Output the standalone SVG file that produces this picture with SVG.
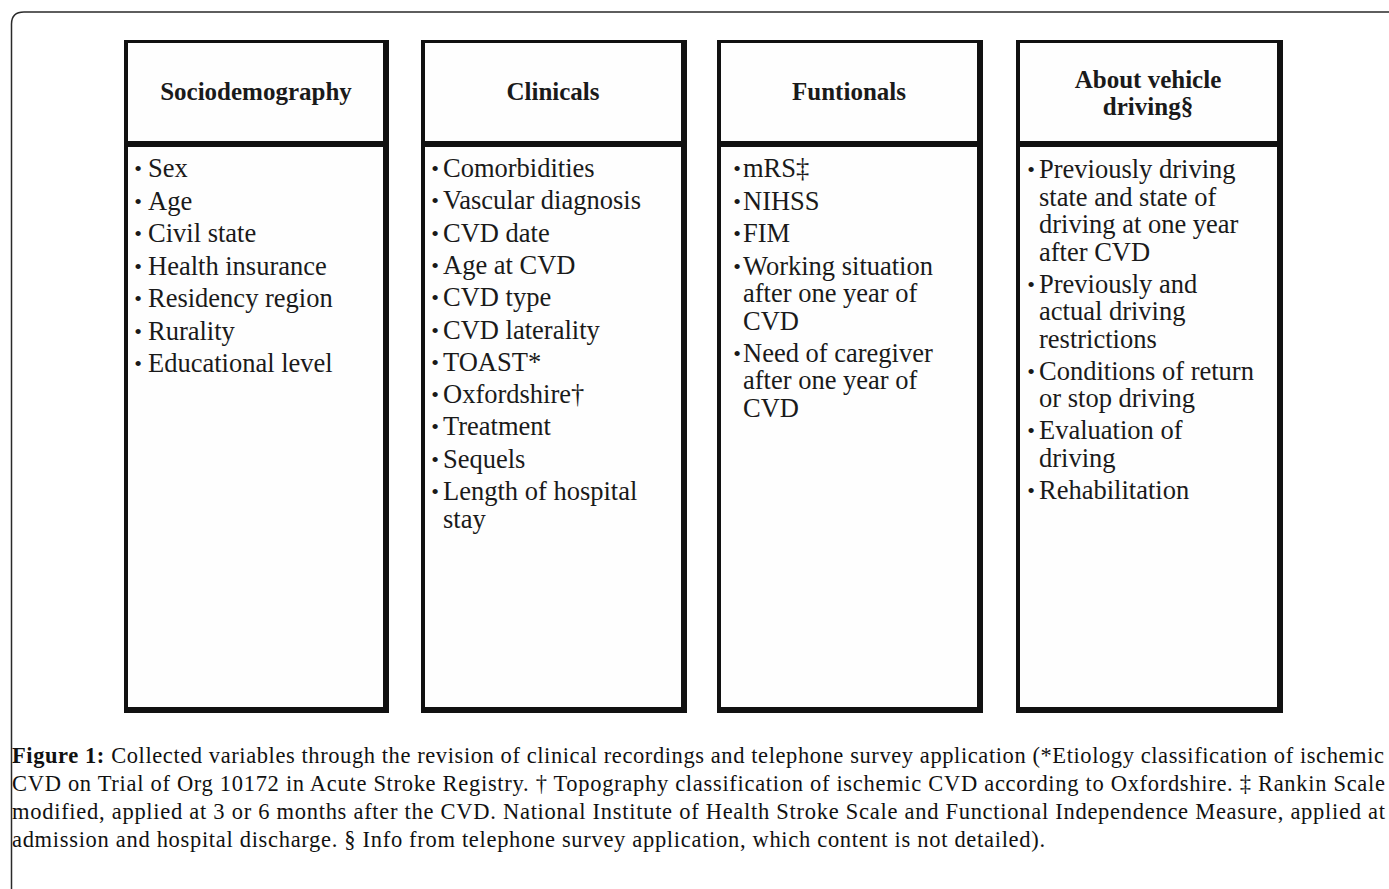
<svg xmlns="http://www.w3.org/2000/svg" width="1389" height="889" viewBox="0 0 1389 889">
<style>
.frame{fill:none;stroke:#2a2a2a;stroke-width:1.5}
.bd{fill:#111}
.in{fill:#fefefe}
.h{font-family:"Liberation Serif",serif;font-weight:bold;font-size:25px;fill:#1a1a1a;text-anchor:middle}
.t{font-family:"Liberation Serif",serif;font-size:26.5px;fill:#1a1a1a}
.b{font-family:"Liberation Serif",serif;font-size:22px;fill:#1a1a1a;text-anchor:middle}
.cap{font-family:"Liberation Serif",serif;font-size:22.5px;fill:#111}
</style>
<rect width="1389" height="889" fill="#fff"/>
<path class="frame" d="M11.5 889 V24 Q11.5 12 24 12 H1389"/>
<g id="sociodemography">
<rect class="bd" x="124" y="40" width="265" height="106"/>
<rect class="in" x="128" y="43" width="255" height="98"/>
<rect class="bd" x="124" y="141" width="265" height="572"/>
<rect class="in" x="128" y="147" width="255" height="560"/>
<text class="h" x="256" y="100">Sociodemography</text>
<g class="b"><text x="138" y="176">•</text><text x="138" y="208.5">•</text><text x="138" y="241">•</text><text x="138" y="273.5">•</text><text x="138" y="306">•</text><text x="138" y="338.5">•</text><text x="138" y="371">•</text></g>
<text class="t" x="148" y="177">Sex</text>
<text class="t" x="148" y="209.5">Age</text>
<text class="t" x="148" y="242">Civil state</text>
<text class="t" x="148" y="274.5">Health insurance</text>
<text class="t" x="148" y="307">Residency region</text>
<text class="t" x="148" y="339.5">Rurality</text>
<text class="t" x="148" y="372">Educational level</text>
</g>
<g id="clinicals">
<rect class="bd" x="421" y="40" width="266" height="106"/>
<rect class="in" x="425" y="43" width="256" height="98"/>
<rect class="bd" x="421" y="141" width="266" height="572"/>
<rect class="in" x="425" y="147" width="256" height="560"/>
<text class="h" x="553" y="100">Clinicals</text>
<g class="b"><text x="435" y="176">•</text><text x="435" y="208.3">•</text><text x="435" y="240.6">•</text><text x="435" y="272.9">•</text><text x="435" y="305.2">•</text><text x="435" y="337.5">•</text><text x="435" y="369.8">•</text><text x="435" y="402.1">•</text><text x="435" y="434.4">•</text><text x="435" y="466.7">•</text><text x="435" y="499">•</text></g>
<text class="t" x="443" y="177">Comorbidities</text>
<text class="t" x="443" y="209.3">Vascular diagnosis</text>
<text class="t" x="443" y="241.6">CVD date</text>
<text class="t" x="443" y="273.9">Age at CVD</text>
<text class="t" x="443" y="306.2">CVD type</text>
<text class="t" x="443" y="338.5">CVD laterality</text>
<text class="t" x="443" y="370.8">TOAST*</text>
<text class="t" x="443" y="403.1">Oxfordshire†</text>
<text class="t" x="443" y="435.4">Treatment</text>
<text class="t" x="443" y="467.7">Sequels</text>
<text class="t" x="443" y="500">Length of hospital</text>
<text class="t" x="443" y="527.5">stay</text>
</g>
<g id="funtionals">
<rect class="bd" x="717" y="40" width="266" height="106"/>
<rect class="in" x="721" y="43" width="256" height="98"/>
<rect class="bd" x="717" y="141" width="266" height="572"/>
<rect class="in" x="721" y="147" width="256" height="560"/>
<text class="h" x="849" y="100">Funtionals</text>
<g class="b"><text x="737" y="176">•</text><text x="737" y="208.5">•</text><text x="737" y="241">•</text><text x="737" y="273.5">•</text><text x="737" y="360.5">•</text></g>
<text class="t" x="743" y="177">mRS‡</text>
<text class="t" x="743" y="209.5">NIHSS</text>
<text class="t" x="743" y="242">FIM</text>
<text class="t" x="743" y="274.5">Working situation</text>
<text class="t" x="743" y="302">after one year of</text>
<text class="t" x="743" y="329.5">CVD</text>
<text class="t" x="743" y="361.5">Need of caregiver</text>
<text class="t" x="743" y="389">after one year of</text>
<text class="t" x="743" y="416.5">CVD</text>
</g>
<g id="about-vehicle-driving">
<rect class="bd" x="1016" y="40" width="267" height="106"/>
<rect class="in" x="1020" y="43" width="257" height="98"/>
<rect class="bd" x="1016" y="141" width="267" height="572"/>
<rect class="in" x="1020" y="147" width="257" height="560"/>
<text class="h" x="1148" y="88">About vehicle</text>
<text class="h" x="1148" y="115">driving§</text>
<g class="b"><text x="1031" y="177">•</text><text x="1031" y="291.5">•</text><text x="1031" y="378.5">•</text><text x="1031" y="438">•</text><text x="1031" y="497.5">•</text></g>
<text class="t" x="1039" y="178">Previously driving</text>
<text class="t" x="1039" y="205.5">state and state of</text>
<text class="t" x="1039" y="233">driving at one year</text>
<text class="t" x="1039" y="260.5">after CVD</text>
<text class="t" x="1039" y="292.5">Previously and</text>
<text class="t" x="1039" y="320">actual driving</text>
<text class="t" x="1039" y="347.5">restrictions</text>
<text class="t" x="1039" y="379.5">Conditions of return</text>
<text class="t" x="1039" y="407">or stop driving</text>
<text class="t" x="1039" y="439">Evaluation of</text>
<text class="t" x="1039" y="466.5">driving</text>
<text class="t" x="1039" y="498.5">Rehabilitation</text>
</g>
<g id="caption">
<text class="cap" x="12" y="763" textLength="1372" lengthAdjust="spacing"><tspan font-weight="bold">Figure 1:</tspan> Collected variables through the revision of clinical recordings and telephone survey application (*Etiology classification of ischemic</text>
<text class="cap" x="12" y="791" textLength="1373" lengthAdjust="spacing">CVD on Trial of Org 10172 in Acute Stroke Registry. † Topography classification of ischemic CVD according to Oxfordshire. ‡ Rankin Scale</text>
<text class="cap" x="12" y="819" textLength="1373" lengthAdjust="spacing">modified, applied at 3 or 6 months after the CVD. National Institute of Health Stroke Scale and Functional Independence Measure, applied at</text>
<text class="cap" x="12" y="847" textLength="1033" lengthAdjust="spacing">admission and hospital discharge. § Info from telephone survey application, which content is not detailed).</text>
</g>
</svg>
